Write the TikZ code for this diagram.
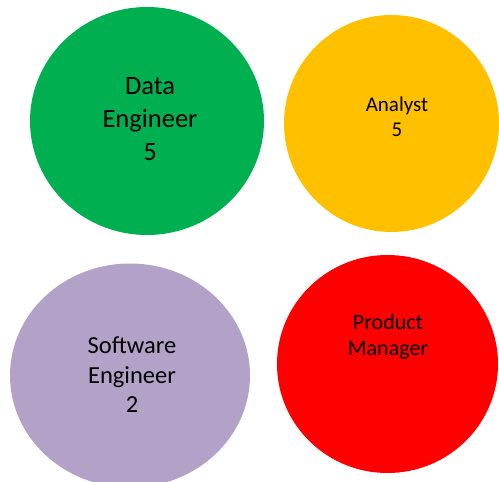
\documentclass[tikz,border=0pt]{standalone}
\usepackage{fontspec}
\setmainfont{Carlito}
\usetikzlibrary{shapes.geometric}
\definecolor{cgreen}{HTML}{00B050}
\definecolor{cyellow}{HTML}{FFC000}
\definecolor{cpurple}{HTML}{B2A2C7}
\definecolor{cred}{HTML}{FF0000}
\begin{document}
\begin{tikzpicture}[x=1pt,y=-1pt,
  blob/.style={ellipse, inner sep=0pt, draw=none},
  lbl/.style={align=center, text=black, inner sep=0pt}]
\useasboundingbox (0,0) rectangle (499,482);
\clip (0,0) rectangle (499,482);
\node[blob, fill=cgreen, minimum width=234pt, minimum height=228pt] (de) at (147,121) {};
\node[blob, fill=cyellow, minimum width=215pt, minimum height=217pt] (an) at (391.5,123.5) {};
\node[blob, fill=cpurple, minimum width=240pt, minimum height=224pt] (se) at (130,375.5) {};
\node[blob, fill=cred, minimum width=221pt, minimum height=218pt] (pm) at (387.5,364) {};
\node[lbl, font=\fontsize{26.5}{33}\selectfont] (detext) at (150,119) {Data\\Engineer\\5};
\node[lbl, font=\fontsize{21}{25}\selectfont] (antext) at (397,117) {Analyst\\5};
\node[lbl, font=\fontsize{24.5}{29.5}\selectfont] (setext) at (132,375) {Software\\Engineer\\2};
\node[lbl, font=\fontsize{22}{26}\selectfont] (pmtext) at (388,337) {Product\\Manager};
\end{tikzpicture}
\end{document}
